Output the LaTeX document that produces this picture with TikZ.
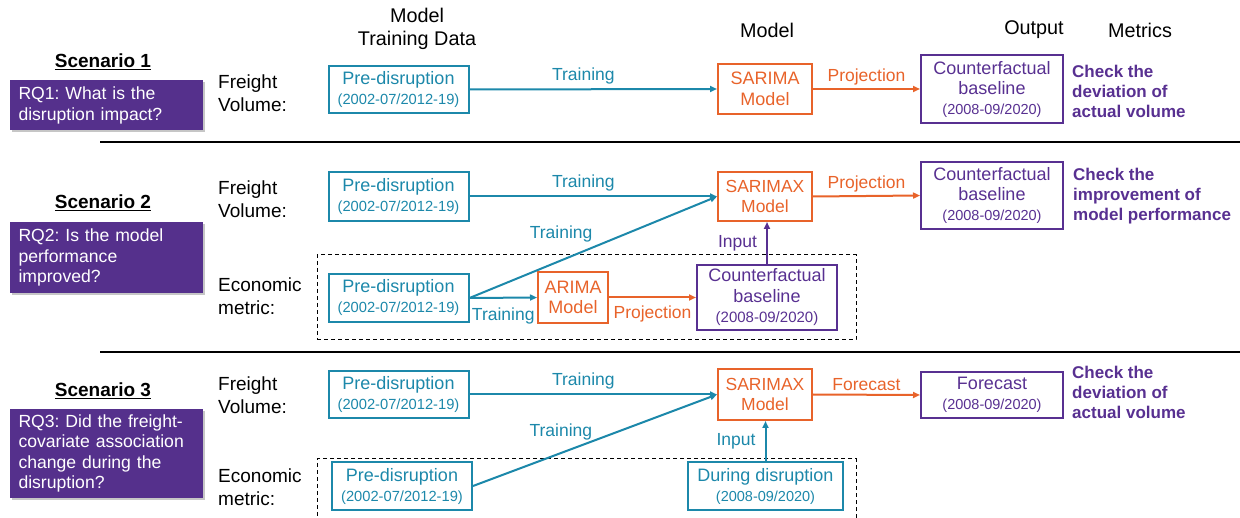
\documentclass[tikz,border=0pt]{standalone}
\usepackage{fontspec}
\setmainfont{Liberation Sans}
\usetikzlibrary{arrows.meta,shadows}
\definecolor{cteal}{RGB}{28,136,170}
\definecolor{corange}{RGB}{232,99,42}
\definecolor{cpurple}{RGB}{88,48,145}
\definecolor{cpfill}{RGB}{85,48,140}
\newcommand\fsz[2]{\fontsize{#1}{#2}\selectfont}
\frenchspacing
\begin{document}
\begin{tikzpicture}[x=1pt,y=-1pt,
  box/.style={draw, line width=2pt, inner sep=0pt, align=center},
  tealbox/.style={box, draw=cteal, text=cteal, font=\fsz{18}{20}},
  orbox/.style={box, draw=corange, text=corange, font=\fsz{18}{20.5}},
  pubox/.style={box, draw=cpurple, text=cpurple, font=\fsz{18}{20}},
  rqbox/.style={fill=cpfill, text=white, inner sep=0pt, minimum width=193pt, text width=176pt, align=left, font=\fsz{17.6}{20.5}, drop shadow={shadow xshift=2pt, shadow yshift=-2pt, opacity=0.45}},
  scen/.style={font=\bfseries\fsz{19}{23}},
  hdr/.style={font=\fsz{19.8}{23}, align=center},
  rowlab/.style={font=\fsz{19}{22.5}, align=left, anchor=west, inner sep=0pt},
  metric/.style={font=\bfseries\fsz{17}{20}, text=cpurple, align=left, anchor=west, inner sep=0pt},
  arr/.style={line width=2pt, -{Triangle[length=7pt,width=6pt]}},
  tarr/.style={arr, draw=cteal},
  oarr/.style={arr, draw=corange},
  parr/.style={arr, draw=cpurple},
  lab/.style={font=\fsz{17.5}{20}, inner sep=1pt},
  tlab/.style={lab, text=cteal},
  olab/.style={lab, text=corange},
  plab/.style={lab, text=cpurple},
  sepline/.style={line width=2.5pt},
  dbox/.style={draw, line width=1pt, dash pattern=on 4pt off 3pt, inner sep=0pt}
]
\useasboundingbox (0,0) rectangle (1240,518);
\clip (0,0) rectangle (1240,518);

% headers
\node[hdr] (hMTD) at (417,29) {Model\\Training Data};
\node[hdr] (hModel) at (767,30) {Model};
\node[hdr] (hOut) at (1034,30) {Output};
\node[hdr] (hMet) at (1140,30) {Metrics};

% ---------------- Scenario 1
\node[scen] (sc1) at (103,62) {\underline{Scenario 1}};
\node[rqbox, minimum height=50pt] (rq1) at (106.5,105.5) {RQ1: What is the\\disruption impact?};
\node[rowlab] (fv1) at (218,93) {Freight\\Volume:};
\node[tealbox, minimum width=140pt, minimum height=47pt] (p1) at (398.5,89.5) {Pre-disruption\\{\fsz{14.7}{20}(2002-07/2012-19)}};
\node[orbox, minimum width=94pt, minimum height=50pt] (m1) at (765,89) {SARIMA\\Model};
\node[pubox, minimum width=142pt, minimum height=68pt] (o1) at (992,89) {Counterfactual\\baseline\\{\fsz{14.5}{20}(2008-09/2020)}};
\node[metric] (k1) at (1072,91) {Check the\\deviation of\\actual volume};
\draw[tarr] (p1.east) -- (m1.west) node[tlab, pos=0.46, above=3pt] {Training};
\draw[oarr] (m1.east) -- (o1.west) node[olab, midway, above=2pt] {Projection};

\coordinate (l1a) at (100,142);
\coordinate (l1b) at (1240,142);
\draw[sepline] (l1a) -- (l1b);

% ---------------- Scenario 2
\node[scen] (sc2) at (103,203) {\underline{Scenario 2}};
\node[rqbox, minimum height=71pt] (rq2) at (106.5,257.5) {RQ2: Is the model\\performance\\improved?};
\node[rowlab] (fv2) at (218,199) {Freight\\Volume:};
\node[tealbox, minimum width=140pt, minimum height=49pt] (p2) at (398.5,196.5) {Pre-disruption\\{\fsz{14.7}{20}(2002-07/2012-19)}};
\node[orbox, minimum width=94pt, minimum height=49pt, font=\fsz{17.5}{20.5}] (m2) at (765,196.5) {SARIMAX\\Model};
\node[pubox, minimum width=142pt, minimum height=67pt] (o2) at (992,195.5) {Counterfactual\\baseline\\{\fsz{14.5}{20}(2008-09/2020)}};
\node[metric] (k2) at (1073,196) {Check the\\improvement of\\model performance};
\node[dbox, minimum width=539pt, minimum height=85pt] (d2) at (586.5,297.5) {};
\node[rowlab] (em2) at (218,296) {Economic\\metric:};
\node[tealbox, minimum width=140pt, minimum height=48pt] (e2) at (398.5,298) {Pre-disruption\\{\fsz{14.7}{20}(2002-07/2012-19)}};
\node[orbox, minimum width=70pt, minimum height=51pt] (a2) at (573,297.5) {ARIMA\\Model};
\node[pubox, minimum width=140pt, minimum height=65pt, font=\fsz{18}{20.5}] (o2b) at (767,297.5) {Counterfactual\\baseline\\{\fsz{15}{20}(2008-09/2020)}};
\draw[tarr] (p2.east) -- (m2.west) node[tlab, pos=0.46, above=3pt] {Training};
\draw[tarr] (e2.east) -- (m2.west) node[tlab, pos=0.37, above=16pt] {Training};
\draw[tarr] (e2.east) -- (a2.west) node[tlab, midway, below=8pt] {Training};
\draw[oarr] (a2.east) -- (o2b.west) node[olab, midway, below=6pt] {Projection};
\draw[parr] (o2b.north) -- (o2b.north |- m2.south) node[plab, midway, left=8pt] {Input};
\draw[oarr] (m2.east) -- (o2.west) node[olab, midway, above=2pt] {Projection};

\coordinate (l2a) at (100,352);
\coordinate (l2b) at (1240,352);
\draw[sepline] (l2a) -- (l2b);

% ---------------- Scenario 3
\node[scen] (sc3) at (103,391) {\underline{Scenario 3}};
\node[rqbox, minimum height=89pt] (rq3) at (106.5,453.5) {RQ3: Did the freight-\\covariate association\\change during the\\disruption?};
\node[rowlab] (fv3) at (218,395) {Freight\\Volume:};
\node[tealbox, minimum width=140pt, minimum height=47pt] (p3) at (398.5,394.5) {Pre-disruption\\{\fsz{14.7}{20}(2002-07/2012-19)}};
\node[orbox, minimum width=94pt, minimum height=51pt, font=\fsz{17.5}{20.5}] (m3) at (765,394.5) {SARIMAX\\Model};
\node[pubox, minimum width=142pt, minimum height=46pt] (o3) at (992,395) {Forecast\\{\fsz{14.5}{19.5}(2008-09/2020)}};
\node[metric] (k3) at (1072,392) {Check the\\deviation of\\actual volume};
\node[dbox, minimum width=539pt, minimum height=80pt] (d3) at (586.5,499) {};
\node[rowlab] (em3) at (218,487) {Economic\\metric:};
\node[tealbox, minimum width=140pt, minimum height=48pt] (e3) at (402,486) {Pre-disruption\\{\fsz{14.7}{20}(2002-07/2012-19)}};
\node[tealbox, minimum width=155pt, minimum height=48pt] (dd3) at (765.5,486) {During disruption\\{\fsz{14.5}{20}(2008-09/2020)}};
\draw[tarr] (p3.east) -- (m3.west) node[tlab, pos=0.46, above=3pt] {Training};
\draw[tarr] (e3.east) -- (m3.west) node[tlab, pos=0.36, above=11pt] {Training};
\draw[oarr] (m3.east) -- (o3.west) node[olab, midway, above=2pt] {Forecast};
\draw[tarr] (dd3.north) -- (dd3.north |- m3.south) node[tlab, midway, left=8pt] {Input};
\end{tikzpicture}
\end{document}
